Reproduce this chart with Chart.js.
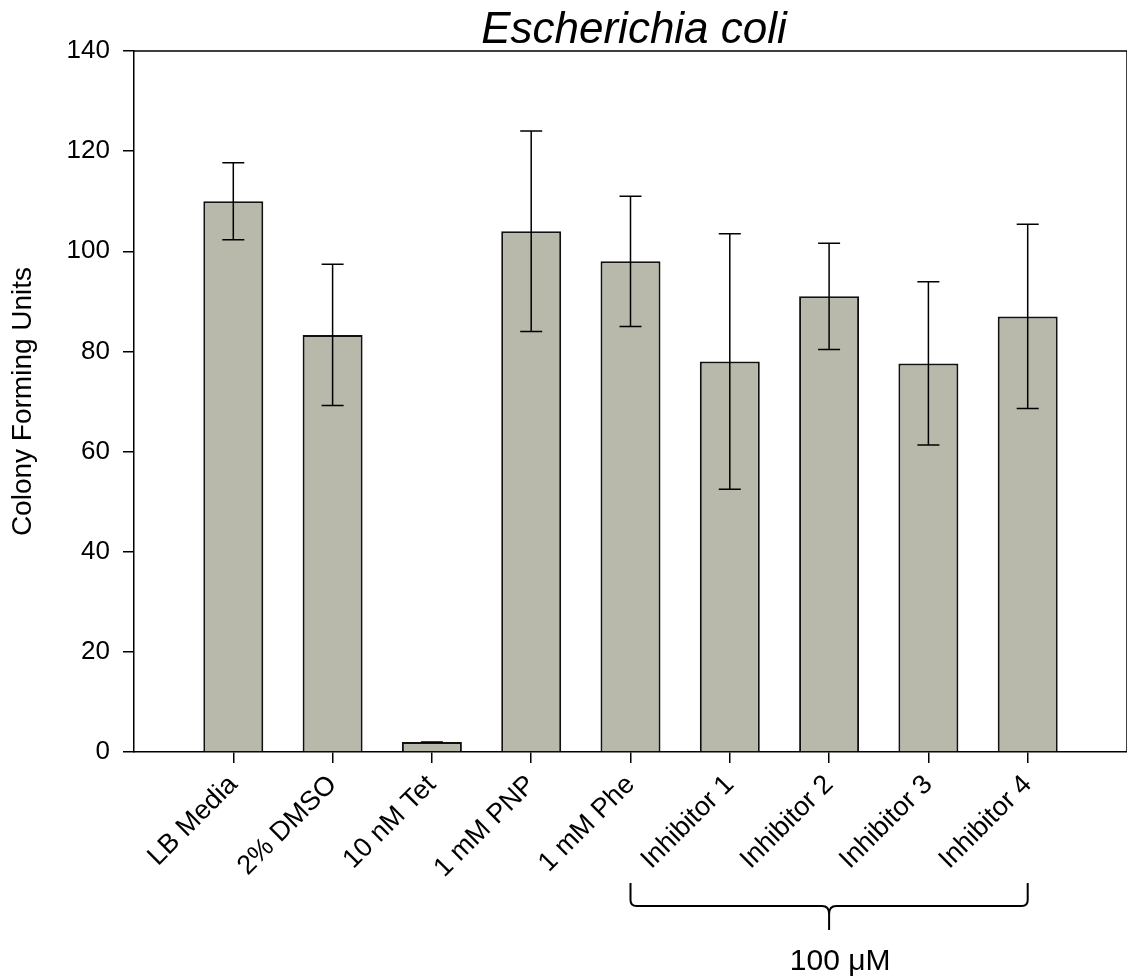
<!DOCTYPE html>
<html>
<head>
<meta charset="utf-8">
<script src="https://cdn.jsdelivr.net/npm/chart.js@4.4.0/dist/chart.umd.min.js"></script>
<style>
  body { margin: 0; background: #fff; }
  #wrap { width: 1127px; height: 979px; }
</style>
</head>
<body>
<div id="wrap"><canvas id="barChart"></canvas></div>
<script>
// values
const treatments = ["LB Media", "2% DMSO", "10 nM Tet", "1 mM PNP", "1 mM Phe",
  "Inhibitor 1", "Inhibitor 2", "Inhibitor 3", "Inhibitor 4"];
const cfu = [110, 83.3, 2, 104, 98, 78, 91, 77.6, 87];
const cfuErr = [7.7, 14.1, 0, 20, 13, 25.5, 10.6, 16.3, 18.4];
const yTicks = [0, 20, 40, 60, 80, 100, 120, 140];
const groupLabel = "100 \u03bcM";
const groupFrom = 4, groupTo = 8, groupMid = 6;

const FONT = "Arial, 'Liberation Sans', sans-serif";

const extras = {
  id: "extras",
  afterDatasetsDraw(chart) {
    const ctx = chart.ctx;
    const x = chart.scales.x, y = chart.scales.y;
    ctx.save();
    ctx.strokeStyle = "#000";
    ctx.lineWidth = 1.5;
    // error bars
    cfu.forEach((v, i) => {
      const px = x.getPixelForValue(i);
      const top = y.getPixelForValue(v + cfuErr[i]);
      const bot = y.getPixelForValue(Math.max(v - cfuErr[i], 0));
      ctx.beginPath();
      ctx.moveTo(px, top); ctx.lineTo(px, bot);
      ctx.moveTo(px - 11, top); ctx.lineTo(px + 11, top);
      ctx.moveTo(px - 11, bot); ctx.lineTo(px + 11, bot);
      ctx.stroke();
    });
    // frame top + right
    const a = chart.chartArea;
    ctx.beginPath();
    ctx.moveTo(a.left, a.top); ctx.lineTo(a.right, a.top); ctx.lineTo(a.right, a.bottom);
    ctx.stroke();
    ctx.restore();
  },
  afterDraw(chart) {
    const ctx = chart.ctx;
    const x = chart.scales.x;
    ctx.save();
    // title
    ctx.fillStyle = "#000";
    ctx.font = "italic 44px " + FONT;
    ctx.textAlign = "center";
    ctx.textBaseline = "alphabetic";
    ctx.fillText("Escherichia coli", 634, 43);

    // curly bracket under the inhibitor labels
    const x0 = x.getPixelForValue(groupFrom);
    const x1 = x.getPixelForValue(groupTo);
    const xc = x.getPixelForValue(groupMid);
    const yTop = 883, yLine = 906, yTip = 930, r = 6;
    ctx.strokeStyle = "#000";
    ctx.lineWidth = 2;
    ctx.beginPath();
    ctx.moveTo(x0, yTop);
    ctx.lineTo(x0, yLine - r);
    ctx.quadraticCurveTo(x0, yLine, x0 + r, yLine);
    ctx.lineTo(xc - 7, yLine);
    ctx.quadraticCurveTo(xc, yLine, xc, yLine + 8);
    ctx.lineTo(xc, yTip);
    ctx.moveTo(xc, yLine + 8);
    ctx.quadraticCurveTo(xc, yLine, xc + 7, yLine);
    ctx.lineTo(x1 - r, yLine);
    ctx.quadraticCurveTo(x1, yLine, x1, yLine - r);
    ctx.lineTo(x1, yTop);
    ctx.stroke();

    ctx.font = "30px " + FONT;
    ctx.fillText(groupLabel, xc + 11, 970);
    ctx.restore();
  }
};

const ctx = document.getElementById("barChart").getContext("2d");
const myChart = new Chart(ctx, {
  type: "bar",
  data: {
    datasets: [
      {
        data: treatments.map((t, i) => ({ x: i, y: cfu[i] })),
        backgroundColor: "#b8b8ab",
        borderColor: "#111",
        borderWidth: 2,
        barPercentage: 0.604,
        categoryPercentage: 1,
      },
    ],
  },
  options: {
    responsive: true,
    maintainAspectRatio: false,
    animation: false,
    layout: { padding: { top: 51, right: 0, bottom: 0, left: 0 } },
    plugins: {
      legend: { display: false },
      tooltip: { enabled: false },
    },
    scales: {
      x: {
        type: "linear",
        min: -1,
        max: 9,
        offset: false,
        afterBuildTicks: (scale) => {
          scale.ticks = treatments.map((t, i) => ({ value: i }));
        },
        afterFit: (scale) => { scale.height = 227; },
        ticks: {
          autoSkip: false,
          maxRotation: 45,
          minRotation: 45,
          padding: 6,
          color: "#000",
          font: { family: FONT, size: 27 },
          callback: (v) => treatments[v],
        },
        grid: { offset: false, drawOnChartArea: false, tickLength: 11, color: "#000", lineWidth: 1.5 },
        border: { color: "#000", width: 1.5 },
      },
      y: {
        min: 0,
        max: 140,
        afterBuildTicks: (scale) => {
          scale.ticks = yTicks.map((v) => ({ value: v }));
        },
        afterFit: (scale) => { scale.width = 134; },
        ticks: {
          padding: 13,
          color: "#000",
          font: { family: FONT, size: 26 },
        },
        grid: { drawOnChartArea: false, tickLength: 11, color: "#000", lineWidth: 1.5 },
        border: { color: "#000", width: 1.5 },
        title: {
          display: true,
          text: "Colony Forming Units",
          color: "#000",
          font: { family: FONT, size: 28 },
          padding: { top: 6, bottom: 0 },
        },
      },
    },
  },
  plugins: [extras],
});
</script>
</body>
</html>
